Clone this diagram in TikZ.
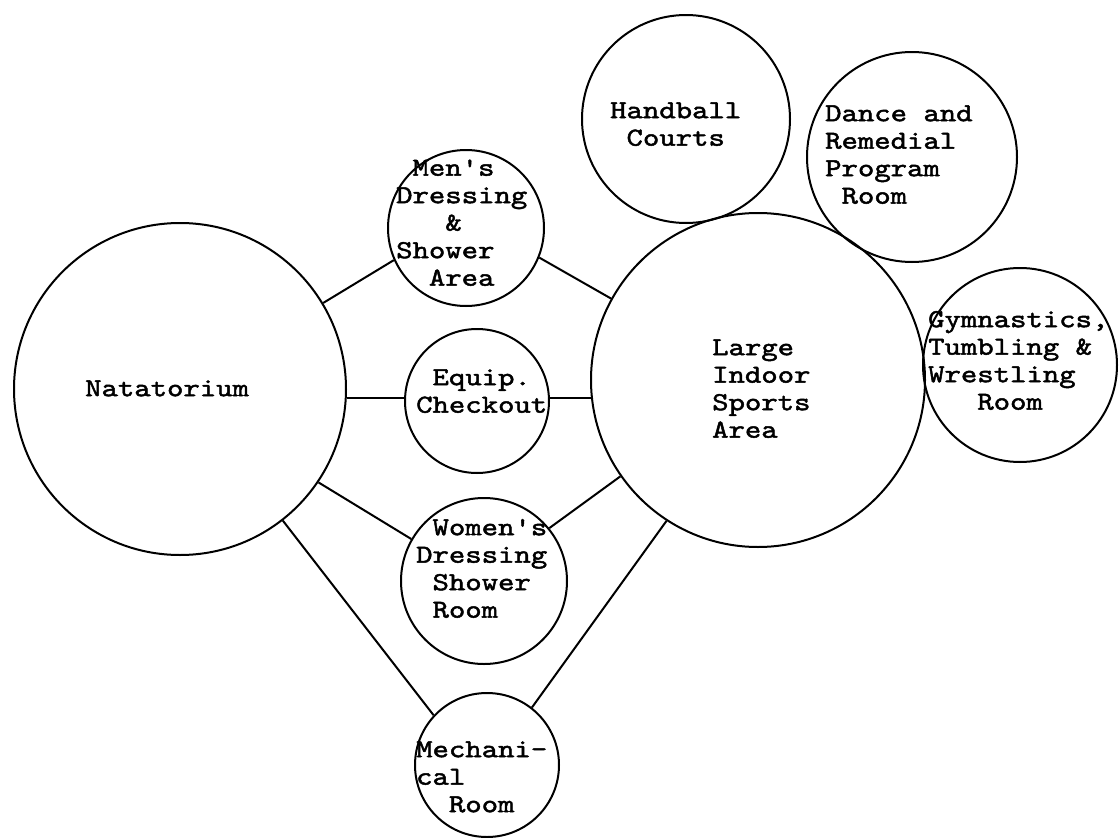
\documentclass[tikz,border=0pt]{standalone}
\usepackage{fontspec}
% typewriter face, widened to the pitch of the drawing's lettering
\newfontfamily\twfont{lmmono10-regular}[Extension=.otf,FakeStretch=1.2,FakeBold=1.8]
\newlength\chw
\setlength\chw{16.38pt}
\newcommand\col[1]{\hspace*{#1\chw}}

\begin{document}
\begin{tikzpicture}[x=1pt,y=-1pt,
  room/.style={draw, circle, line width=2pt, inner sep=0pt},
  link/.style={line width=2pt},
  caption/.style={anchor=north west, inner sep=0pt, align=left,
    font=\twfont\fontsize{26}{27.5}\selectfont}]
\fill[white] (0,0) rectangle (1120,838);
\useasboundingbox (0,0) rectangle (1120,838);

% rooms
\node[room, minimum size=332pt] (nat)   at (180,389) {};
\node[room, minimum size=334pt] (large) at (758,380) {};
\node[room, minimum size=156pt] (men)   at (466,228) {};
\node[room, minimum size=144pt] (equip) at (477,401) {};
\node[room, minimum size=166pt] (women) at (484,581) {};
\node[room, minimum size=144pt] (mech)  at (487,765) {};
\node[room, minimum size=208pt] (hand)  at (686,119) {};
\node[room, minimum size=210pt] (dance) at (912,157) {};
\node[room, minimum size=194pt] (gym)   at (1020,365) {};

% room names
\node[caption] (natT)   at (85,376.75)  {\strut Natatorium};
\node[caption] (largeT) at (712,335.75) {\strut Large\\\strut Indoor\\\strut Sports\\\strut Area};
\node[caption] (menT)   at (396,156.25) {\strut\col{1}Men's\\\strut Dressing\\\strut\col{3}\&\\\strut Shower\\\strut\col{2}Area};
\node[caption] (equipT) at (416,365.75) {\strut\col{1}Equip.\\\strut Checkout};
\node[caption] (womenT) at (416,515.75) {\strut\col{1}Women's\\\strut Dressing\\\strut\col{1}Shower\\\strut\col{1}Room};
\node[caption] (mechT)  at (416,737.75) {\strut Mechani-\\\strut cal\\\strut\col{2}Room};
\node[caption] (handT)  at (610,98.75)  {\strut Handball\\\strut\col{1}Courts};
\node[caption] (danceT) at (825,101.75) {\strut Dance and\\\strut Remedial\\\strut Program\\\strut\col{1}Room};
\node[caption] (gymT)   at (928,307.75) {\strut Gymnastics,\\\strut Tumbling \&\\\strut Wrestling\\\strut\col{3}Room};

% connections
\draw[link] (nat.31)   -- (men.204);
\draw[link] (men.-22)  -- (large.151);
\draw[link] (nat.-3)   -- (nat.-3 -| equip.west);
\draw[link] (large.186) -- (large.186 -| equip.east);
\draw[link] (nat.-34)  -- (women.150);
\draw[link] (women.39) -- (large.215);
\draw[link] (nat.-52)  -- (mech.137);
\draw[link] (mech.52)  -- (large.237);
\end{tikzpicture}
\end{document}
